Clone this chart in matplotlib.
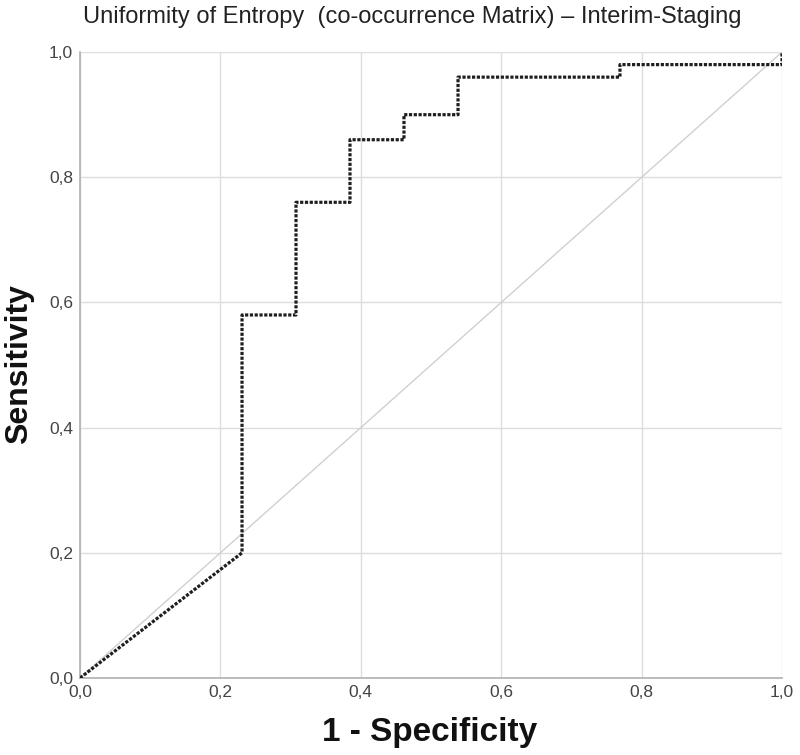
import matplotlib
matplotlib.use("Agg")
import matplotlib.pyplot as plt
from matplotlib.ticker import FuncFormatter

# ROC curve points (1 - specificity, sensitivity)
fpr = [0.0, 0.2308, 0.2308, 0.3077, 0.3077, 0.3846, 0.3846, 0.4615, 0.4615,
       0.5385, 0.5385, 0.7692, 0.7692, 1.0, 1.0]
tpr = [0.0, 0.20, 0.58, 0.58, 0.76, 0.76, 0.86, 0.86, 0.90,
       0.90, 0.96, 0.96, 0.98, 0.98, 1.0]
ref_line = [0.0, 1.0]
ticks = [0.0, 0.2, 0.4, 0.6, 0.8, 1.0]

plt.rcParams['font.family'] = ['Liberation Sans', 'DejaVu Sans']

fig = plt.figure(figsize=(8, 7.55), dpi=100)
ax = fig.add_axes([0.1, 0.102, 0.8775, 0.829])

# reference diagonal and ROC curve
ax.plot(ref_line, ref_line, color="#d0d0d0", lw=1.0, zorder=2)
ax.plot(fpr, tpr, color="#1e1e1e", lw=2.3, ls=(0, (1, 0.5)), zorder=3)

ax.set_xlim(0, 1)
ax.set_ylim(0, 1)
ax.set_xticks(ticks)
ax.set_yticks(ticks)
fmt = FuncFormatter(lambda v, p: f"{v:.1f}".replace(".", ","))
ax.xaxis.set_major_formatter(fmt)
ax.yaxis.set_major_formatter(fmt)
ax.tick_params(length=0, labelsize=12.5, colors="#444444", pad=5)
ax.grid(True, color="#dddddd", lw=1.0)
ax.set_axisbelow(True)

for s in ["top", "right"]:
    ax.spines[s].set_visible(False)
for s in ["left", "bottom"]:
    ax.spines[s].set_color("#b0b0b0")
    ax.spines[s].set_linewidth(1.2)

fig.text(430 / 800, 1 - 732 / 755, "1 - Specificity", ha="center", va="center",
         fontsize=24, fontweight="bold", color="#111111")
fig.text(19 / 800, 1 - 364 / 755, "Sensitivity", ha="center", va="center",
         rotation=90, fontsize=23, fontweight="bold", color="#111111")
fig.text(412 / 800, 1 - 17 / 755,
         "Uniformity of Entropy  (co-occurrence Matrix) \u2013 Interim-Staging",
         ha="center", va="center", fontsize=17, color="#222222")

fig.savefig("out.png", dpi=100)
